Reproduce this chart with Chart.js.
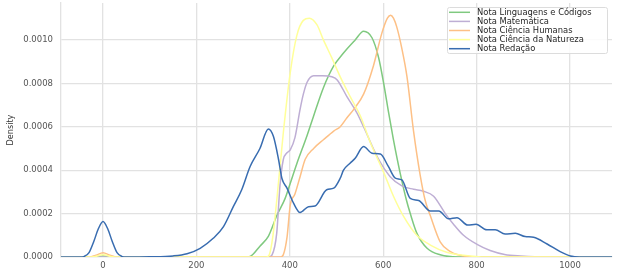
<!DOCTYPE html>
<html>
<head>
<meta charset="utf-8">
<script src="https://cdn.jsdelivr.net/npm/chart.js@4"></script>
<style>
    html, body { margin: 0; padding: 0; background: #fff; }
    #wrap { width: 617px; height: 272px; }
</style>
</head>
<body>
<div id="wrap"><canvas id="kdeChart" width="617" height="272"></canvas></div>
<script>
// Tick labels
const xTicks = [0, 200, 400, 600, 800, 1000];
const yTicks = [0, 0.0002, 0.0004, 0.0006, 0.0008, 0.0010];

// Nota Linguagens e Códigos
const linguagensX = [-90, -20, 0, 20, 300, 315, 336, 354, 372, 390, 401, 415, 437, 451, 472, 494, 515, 540, 558, 576, 590, 601, 612, 622, 636, 650, 658, 672, 694, 722, 760, 1090];
const linguagensY = [0, 0, 0.000005, 0, 0, 0.000003, 0.00005, 0.000095, 0.00019, 0.00027, 0.00034, 0.00043, 0.00056, 0.00065, 0.00078, 0.00088, 0.00094, 0.001, 0.00104, 0.00101, 0.00092, 0.0008, 0.00066, 0.00054, 0.00039, 0.00026, 0.0002, 0.00011, 0.00004, 0.00001, 0, 0];

// Nota Matemática
const matematicaX = [-90, 355, 362, 372, 379, 386, 394, 401, 411, 422, 429, 437, 451, 470, 490, 501, 522, 544, 558, 587, 615, 640, 665, 686, 708, 733, 751, 772, 801, 829, 860, 894, 950, 1090];
const matematicaY = [0, 0, 0.00001, 0.00011, 0.00033, 0.000448, 0.00048, 0.000494, 0.00055, 0.00068, 0.00075, 0.000805, 0.000835, 0.000835, 0.00083, 0.000817, 0.00074, 0.000663, 0.0006, 0.000463, 0.00037, 0.000328, 0.000312, 0.000303, 0.00028, 0.0002, 0.00015, 0.0001, 0.000058, 0.00003, 0.000012, 0.000005, 0, 0];

// Nota Ciência Humanas
const humanasX = [-90, -30, -15, 0, 15, 30, 380, 386, 394, 401, 411, 422, 433, 451, 472, 494, 508, 522, 537, 558, 579, 597, 609, 616, 622, 629, 640, 651, 665, 679, 690, 701, 722, 744, 760, 800, 1090];
const humanasY = [0, 0, 0.000008, 0.00002, 0.000008, 0, 0, 0.00001, 0.00009, 0.00024, 0.00029, 0.00037, 0.00045, 0.0005, 0.00054, 0.00058, 0.0006, 0.00064, 0.00068, 0.00075, 0.00088, 0.00103, 0.0011, 0.001114, 0.0011, 0.00106, 0.00096, 0.00083, 0.00058, 0.00038, 0.00026, 0.00019, 0.00007, 0.000025, 0.00001, 0, 0];

// Nota Ciência da Natureza
const naturezaX = [-90, -25, 0, 25, 350, 356, 364, 372, 386, 401, 415, 429, 442, 458, 472, 490, 508, 529, 551, 572, 601, 622, 644, 672, 701, 736, 772, 820, 1090];
const naturezaY = [0, 0, 0.00001, 0, 0, 0.00001, 0.0001, 0.00026, 0.00057, 0.00085, 0.00102, 0.00109, 0.0011, 0.00107, 0.001, 0.000917, 0.00083, 0.00074, 0.00065, 0.00053, 0.00039, 0.00028, 0.000186, 0.0001, 0.000055, 0.000022, 0.000008, 0, 0];

// Nota Redação
const redacaoX = [-90, -50, -40, -30, -20, -10, 0, 10, 20, 30, 40, 50, 100, 150, 180, 208, 236, 258, 279, 297, 315, 336, 354, 365, 376, 383, 394, 408, 422, 440, 454, 479, 494, 508, 515, 529, 540, 558, 576, 594, 611, 626, 640, 658, 676, 701, 719, 740, 758, 781, 799, 822, 840, 861, 883, 904, 922, 951, 979, 1001, 1020, 1090];
const redacaoY = [0, 0, 0.000003, 0.00002, 0.00007, 0.00013, 0.000163, 0.00013, 0.00007, 0.00002, 0.000003, 0, 0.000001, 0.000005, 0.000015, 0.00004, 0.000086, 0.00014, 0.000232, 0.00031, 0.000417, 0.0005, 0.00059, 0.000555, 0.000448, 0.000363, 0.000317, 0.000248, 0.000205, 0.000232, 0.000235, 0.00031, 0.000317, 0.000363, 0.0004, 0.000432, 0.000455, 0.000509, 0.000478, 0.000474, 0.000417, 0.000363, 0.000355, 0.00027, 0.00026, 0.000212, 0.000212, 0.000176, 0.000181, 0.000147, 0.000151, 0.000125, 0.000125, 0.000106, 0.000109, 0.000094, 0.000091, 0.00006, 0.000025, 0.000005, 0, 0];

const seriesNames = ['Nota Linguagens e Códigos', 'Nota Matemática', 'Nota Ciência Humanas', 'Nota Ciência da Natureza', 'Nota Redação'];
const seriesColors = ['#7fc97f', '#beaed4', '#fdc086', '#ffff99', '#386cb0'];

const toPoints = (xs, ys) => xs.map((x, i) => ({ x: x, y: ys[i] }));
const seriesData = [
    toPoints(linguagensX, linguagensY),
    toPoints(matematicaX, matematicaY),
    toPoints(humanasX, humanasY),
    toPoints(naturezaX, naturezaY),
    toPoints(redacaoX, redacaoY)
];

const gridColor = '#e2e2e2';
const tickFont = { family: 'DejaVu Sans', size: 8.5 };

// no extra room for the outer tick labels, the plot must fill the canvas
function noScalePadding(axis) {
    axis.paddingTop = 0;
    axis.paddingBottom = 0;
    axis.paddingLeft = 0;
    axis.paddingRight = 0;
}

// legend drawn inside the plot, top right (like seaborn)
const insideLegend = {
    id: 'insideLegend',
    afterDraw(chart) {
        const ctx = chart.ctx;
        const x0 = 447, y0 = 7, w = 160, h = 46;
        ctx.save();
        ctx.fillStyle = 'rgba(255,255,255,0.85)';
        ctx.strokeStyle = '#dcdcdc';
        ctx.lineWidth = 1;
        ctx.beginPath();
        ctx.roundRect(x0 + 0.5, y0 + 0.5, w, h, 2);
        ctx.fill();
        ctx.stroke();
        ctx.font = '8.4px "DejaVu Sans"';
        ctx.textBaseline = 'middle';
        ctx.fillStyle = '#262626';
        seriesNames.forEach((name, i) => {
            const y = 12.3 + i * 9.1;
            ctx.strokeStyle = seriesColors[i];
            ctx.lineWidth = 1.5;
            ctx.beginPath();
            ctx.moveTo(449, y);
            ctx.lineTo(470, y);
            ctx.stroke();
            ctx.fillText(name, 477, y + 0.5);
        });
        ctx.restore();
    }
};

const ctx = document.getElementById('kdeChart').getContext('2d');
new Chart(ctx, {
    type: 'line',
    data: {
        datasets: seriesData.map((pts, i) => ({
            label: seriesNames[i],
            data: pts,
            borderColor: seriesColors[i],
            borderWidth: 1.5,
            pointRadius: 0,
            fill: false,
            cubicInterpolationMode: 'monotone',
            order: i === 4 ? 0 : 5 - i
        }))
    },
    options: {
        responsive: false,
        animation: false,
        events: [],
        layout: { padding: { top: 3, right: 5, left: 0, bottom: 0 } },
        plugins: { legend: { display: false }, tooltip: { enabled: false } },
        scales: {
            x: {
                type: 'linear',
                min: -90,
                max: 1090,
                afterBuildTicks: axis => { axis.ticks = xTicks.map(v => ({ value: v })); },
                afterFit: axis => { axis.height = 15; noScalePadding(axis); },
                grid: { color: gridColor, lineWidth: 1.3, drawTicks: false },
                border: { color: gridColor, width: 1.3 },
                ticks: { font: tickFont, color: '#555', padding: 4, maxRotation: 0, callback: v => String(v) }
            },
            y: {
                min: 0,
                max: 0.00117,
                afterBuildTicks: axis => { axis.ticks = yTicks.map(v => ({ value: v })); },
                afterFit: axis => { axis.width = 61; noScalePadding(axis); },
                grid: { color: gridColor, lineWidth: 1.3, drawTicks: false },
                border: { color: gridColor, width: 1.3 },
                ticks: {
                    font: tickFont,
                    color: '#555',
                    padding: 8,
                    callback: v => v.toFixed(4)
                },
                title: {
                    display: true,
                    text: 'Density',
                    color: '#333',
                    font: { family: '"DejaVu Sans Condensed", "Liberation Sans Narrow", "DejaVu Sans"', size: 9 },
                    padding: { top: 5, bottom: 0 }
                }
            }
        }
    },
    plugins: [insideLegend]
});
</script>
</body>
</html>
